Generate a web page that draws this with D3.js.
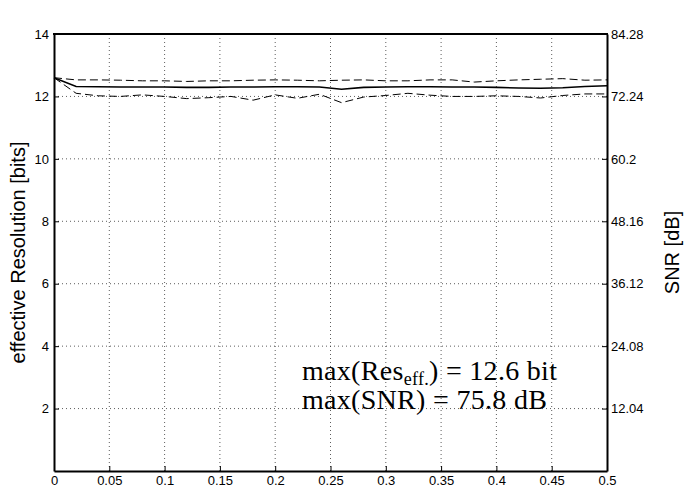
<!DOCTYPE html>
<html>
<head>
<meta charset="utf-8">
<script src="https://cdn.jsdelivr.net/npm/d3@7"></script>
<style>
  body { margin: 0; background: #fff; }
  .tick-label { font-family: "Liberation Sans", Arial, sans-serif; font-size: 13px; fill: #000; }
  .axis-title { font-family: "Liberation Sans", Arial, sans-serif; font-size: 20px; fill: #000; }
  .note { font-family: "Liberation Serif", "Times New Roman", serif; font-size: 28px; letter-spacing: 0.3px; fill: #000; }
</style>
</head>
<body>
<div id="chart"></div>
<script>
// x positions (normalised frequency), one point every 0.02
var xValues = [0, 0.02, 0.04, 0.06, 0.08, 0.10, 0.12, 0.14, 0.16, 0.18, 0.20, 0.22, 0.24,
               0.26, 0.28, 0.30, 0.32, 0.34, 0.36, 0.38, 0.40, 0.42, 0.44, 0.46, 0.48, 0.50];
// effective resolution [bits]
var resMean = [12.6, 12.32, 12.31, 12.30, 12.30, 12.30, 12.29, 12.29, 12.30, 12.30, 12.31, 12.31, 12.30,
               12.23, 12.29, 12.30, 12.31, 12.31, 12.30, 12.30, 12.29, 12.27, 12.26, 12.28, 12.32, 12.34];
var resMax  = [12.6, 12.53, 12.53, 12.52, 12.50, 12.50, 12.48, 12.50, 12.50, 12.52, 12.53, 12.52, 12.50,
               12.52, 12.53, 12.50, 12.50, 12.53, 12.53, 12.46, 12.50, 12.53, 12.55, 12.57, 12.52, 12.53];
var resMin  = [12.6, 12.10, 12.02, 12.00, 12.05, 12.00, 11.93, 11.96, 12.00, 11.88, 12.05, 11.94, 12.07,
               11.80, 11.98, 12.03, 12.10, 12.04, 12.00, 12.00, 12.02, 12.00, 11.95, 12.03, 12.08, 12.08];

var xTicks = [0, 0.05, 0.1, 0.15, 0.2, 0.25, 0.3, 0.35, 0.4, 0.45, 0.5];
var yTicks = [2, 4, 6, 8, 10, 12, 14];
var snrTicks = ["12.04", "24.08", "36.12", "48.16", "60.2", "72.24", "84.28"];

(function(){
    var width = 688, height = 487;
    var left = 54, right = 607, top = 34, bottom = 471;

    var svg = d3.select("#chart")
    .append("svg")
    .attr("width", width)
    .attr("height", height);

    var x = d3.scaleLinear().domain([0, 0.5]).range([left, right]);
    var y = d3.scaleLinear().domain([0, 14]).range([bottom, top]);
    // SNR = 6.02 * bits
    var ySnr = d3.scaleLinear().domain([0, 14 * 6.02]).range([bottom, top]);

    // dotted grid
    var grid = svg.append("g")
    .attr("stroke", "#333")
    .attr("stroke-width", 0.8)
    .attr("stroke-dasharray", "1,3");

    grid.selectAll(".vgrid")
    .data(xTicks.slice(1, -1))
    .enter().append("line")
    .attr("x1", function(d){ return x(d); })
    .attr("x2", function(d){ return x(d); })
    .attr("y1", top)
    .attr("y2", bottom);

    grid.selectAll(".hgrid")
    .data(yTicks.slice(0, -1))
    .enter().append("line")
    .attr("x1", left)
    .attr("x2", right)
    .attr("y1", function(d){ return y(d); })
    .attr("y2", function(d){ return y(d); });

    // curves
    var line = d3.line()
    .x(function(d, i){ return x(xValues[i]); })
    .y(function(d){ return y(d); });

    svg.append("path")
    .datum(resMax)
    .attr("d", line)
    .attr("fill", "none")
    .attr("stroke", "#000")
    .attr("stroke-width", 1)
    .attr("stroke-dasharray", "8,4");

    svg.append("path")
    .datum(resMin)
    .attr("d", line)
    .attr("fill", "none")
    .attr("stroke", "#000")
    .attr("stroke-width", 1)
    .attr("stroke-dasharray", "8,4");

    svg.append("path")
    .datum(resMean)
    .attr("d", line)
    .attr("fill", "none")
    .attr("stroke", "#000")
    .attr("stroke-width", 1.6);

    // axes, ticks pointing inward like matlab
    var tickLen = 5;
    var axisBottom = d3.axisBottom(x)
    .tickValues(xTicks)
    .tickSizeInner(-tickLen)
    .tickSizeOuter(0)
    .tickPadding(5)
    .tickFormat(function(d){ return d; });
    var gx = svg.append("g")
    .attr("transform", "translate(0," + bottom + ")")
    .call(axisBottom);

    var axisLeft = d3.axisLeft(y)
    .tickValues(yTicks)
    .tickSizeInner(-tickLen)
    .tickSizeOuter(0)
    .tickPadding(5);
    var gy = svg.append("g")
    .attr("transform", "translate(" + left + ",0)")
    .call(axisLeft);

    var axisRight = d3.axisRight(ySnr)
    .tickValues(yTicks.map(function(d){ return d * 6.02; }))
    .tickSizeInner(-tickLen)
    .tickSizeOuter(0)
    .tickPadding(4)
    .tickFormat(function(d, i){ return snrTicks[i]; });
    var gr = svg.append("g")
    .attr("transform", "translate(" + right + ",0)")
    .call(axisRight);

    [gx, gy, gr].forEach(function(g){
        g.select(".domain").attr("stroke", "#000").attr("stroke-width", 2);
        g.selectAll(".tick line").attr("stroke", "#000").attr("stroke-width", 1);
        g.selectAll(".tick text")
        .attr("class", "tick-label");
        g.attr("font-family", null).attr("font-size", null);
    });

    // top edge of the box
    svg.append("line")
    .attr("x1", left - 1)
    .attr("x2", right + 1)
    .attr("y1", top)
    .attr("y2", top)
    .attr("stroke", "#000")
    .attr("stroke-width", 2);

    // axis titles
    svg.append("text")
    .attr("class", "axis-title")
    .attr("transform", "translate(25," + (top + bottom) / 2 + ") rotate(-90)")
    .attr("text-anchor", "middle")
    .text("effective Resolution [bits]");

    svg.append("text")
    .attr("class", "axis-title")
    .attr("transform", "translate(679," + (top + bottom) / 2 + ") rotate(-90)")
    .attr("text-anchor", "middle")
    .text("SNR [dB]");

    // annotation
    var note1 = svg.append("text")
    .attr("class", "note")
    .attr("x", 302)
    .attr("y", 380);
    note1.append("tspan").text("max(Res");
    note1.append("tspan")
    .attr("font-size", "18px")
    .attr("dy", 5)
    .text("eff.");
    note1.append("tspan")
    .attr("dy", -5)
    .text(") = 12.6 bit");

    svg.append("text")
    .attr("class", "note")
    .attr("x", 302)
    .attr("y", 409)
    .text("max(SNR) = 75.8 dB");
})();
</script>
</body>
</html>
